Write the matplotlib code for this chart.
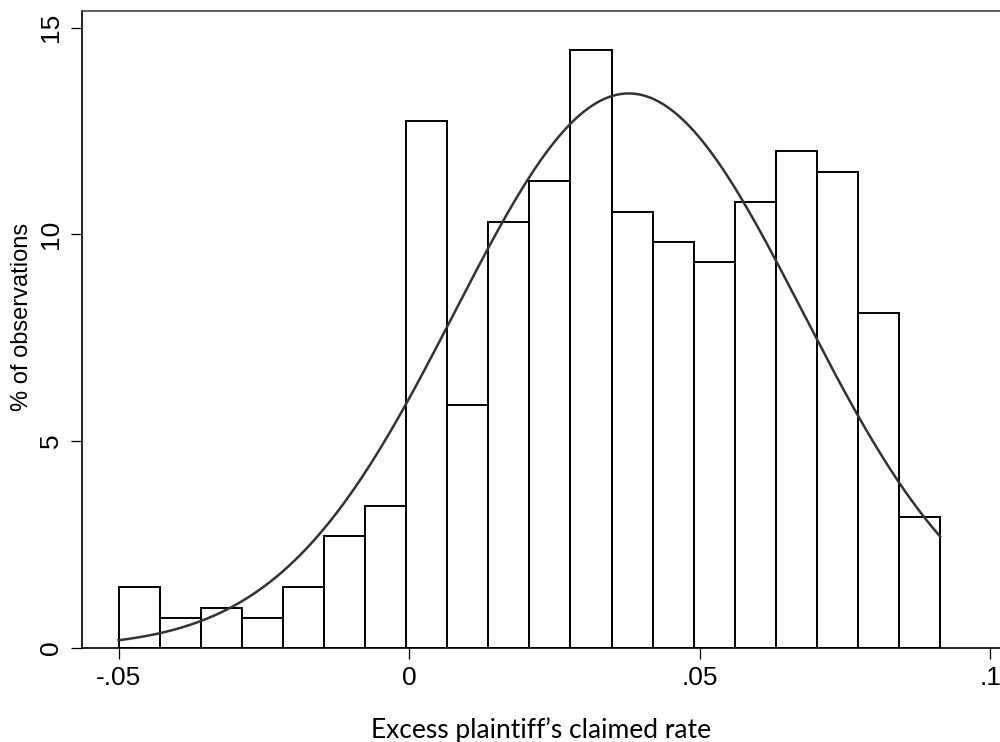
import numpy as np
import matplotlib
matplotlib.use("Agg")
import matplotlib.pyplot as plt

# histogram of the excess claimed rate, percent of observations per bin
bin_start = -0.05
bin_width = 0.00707
pct_obs = [1.46, 0.73, 0.97, 0.72, 1.46, 2.70, 3.42, 12.74, 5.87, 10.29,
           11.28, 14.45, 10.54, 9.81, 9.32, 10.78, 12.01, 11.52, 8.09, 3.17]

# fitted normal curve (peak height in percent, mean, sd)
norm_peak = 13.41
norm_mu = 0.0378
norm_sd = 0.0299

x_ticks = [-0.05, 0, 0.05, 0.1]
x_ticklabels = ["-.05", "0", ".05", ".1"]
y_ticks = [0, 5, 10, 15]

plt.rcParams["font.family"] = ["Liberation Sans", "DejaVu Sans"]

fig = plt.figure(figsize=(10, 7.42), dpi=100)
ax = fig.add_axes([0.082, 0.1271, 0.918, 0.8581])

edges = bin_start + bin_width * np.arange(len(pct_obs))
ax.bar(edges, pct_obs, width=bin_width, align="edge", color="white",
       edgecolor="black", linewidth=1.4, zorder=2)

xs = np.linspace(bin_start, bin_start + bin_width * len(pct_obs), 400)
ys = norm_peak * np.exp(-0.5 * ((xs - norm_mu) / norm_sd) ** 2)
ax.plot(xs, ys, color="#333333", linewidth=1.8, zorder=3)

ax.set_xlim(-0.0563, 0.1017)
ax.set_ylim(0, 15.405)
ax.set_xticks(x_ticks)
ax.set_xticklabels(x_ticklabels)
ax.set_yticks(y_ticks)
ax.set_yticklabels([str(v) for v in y_ticks], rotation=90, va="center")
ax.tick_params(axis="both", labelsize=19, length=8, width=0.9, color="black")
ax.tick_params(axis="x", pad=5)
ax.tick_params(axis="y", pad=6)

ax.spines["right"].set_visible(False)
ax.spines["top"].set_color("#444444")
for s in ["left", "bottom", "top"]:
    ax.spines[s].set_linewidth(1.2)

fig.text(0.022, 0.5728, "% of observations", rotation=90, ha="center",
         va="center", fontsize=17)
fig.text(0.541, 1 - 738 / 742, "Excess plaintiff\u2019s claimed rate",
         ha="center", va="baseline", fontsize=19, family=["Lato", "DejaVu Sans"])

fig.savefig("out.png", dpi=100)
